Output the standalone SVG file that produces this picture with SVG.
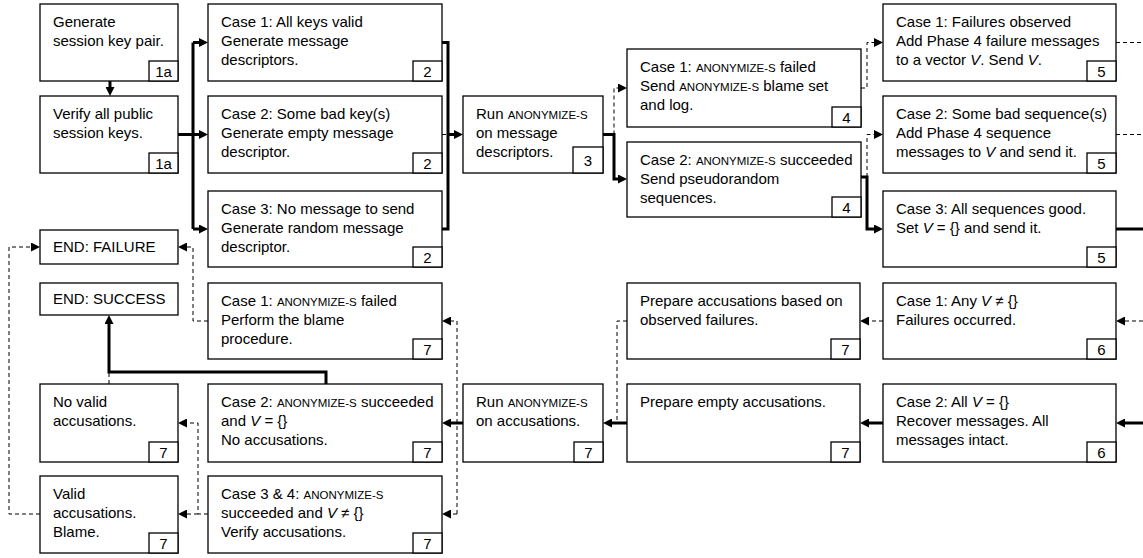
<svg xmlns="http://www.w3.org/2000/svg" width="1143" height="558" viewBox="0 0 1143 558">
<style>
.b{fill:#fff;stroke:#000;stroke-width:1.3}
text{font-family:"Liberation Sans",Arial,sans-serif;font-size:15px;fill:#000}
.num{text-anchor:middle}
.sc{font-size:11.5px}
.i{font-style:italic}
.t{fill:none;stroke:#000;stroke-width:3}
.d{fill:none;stroke:#000;stroke-width:1;stroke-dasharray:4 3}
.ar{marker-end:url(#a)}
</style>
<defs>
<marker id="a" viewBox="0 0 9 9" refX="5" refY="4.5" markerWidth="9" markerHeight="9" markerUnits="userSpaceOnUse" orient="auto">
<path d="M0,0 L9,4.5 L0,9 z" fill="#000"/>
</marker>
</defs>
<rect width="1143" height="558" fill="#fff"/>

<g id="connectors">
<path class="t ar" d="M110,81 V92"/>
<path class="t" d="M178,134.5 H193 M193,42.5 V229"/>
<path class="t ar" d="M193,42.5 H204"/>
<path class="t ar" d="M193,134.5 H204"/>
<path class="t ar" d="M193,229 H204"/>
<path class="t" d="M442,42.5 H448 V229 H442"/>
<path class="d" d="M442,134.5 H448"/>
<path class="t ar" d="M448,134.5 H459"/>
<path class="t ar" d="M603,134.5 H614 V179 H623"/>
<path class="d ar" d="M614,134.5 V88 H623"/>
<path class="d ar" d="M861,88 H867 V42.5 H879"/>
<path class="t ar" d="M861,177 H867 V229 H879"/>
<path class="d ar" d="M867,177 V134.5 H879"/>
<path class="d" d="M1116,42.5 H1143"/>
<path class="d" d="M1116,134.5 H1143"/>
<path class="t" d="M1116,229 H1143"/>
<path class="d ar" d="M1143,321 H1120"/>
<path class="t ar" d="M1143,423 H1120"/>
<path class="d ar" d="M883,321 H864"/>
<path class="t ar" d="M883,423 H864"/>
<path class="t ar" d="M627,423 H607"/>
<path class="d" d="M627,321 H617 V423"/>
<path class="t ar" d="M463,423 H446"/>
<path class="d ar" d="M457,514 V321 H446"/>
<path class="d ar" d="M457,514 H446"/>
<path class="t ar" d="M326,384 V372 H109 V319"/>
<path class="d" d="M109,384 V372"/>
<path class="d ar" d="M208,514 H198 V423 H182"/>
<path class="d ar" d="M198,514 H182"/>
<path class="d ar" d="M40,514 H9 V247 H36"/>
<path class="d ar" d="M208,321 H193 V247 H182"/>
</g>

<g id="n1a1"><rect class="b" x="40" y="4" width="138" height="77"/><text x="53" y="27">Generate</text><text x="53" y="46">session key pair.</text><rect class="b" x="149" y="61" width="29" height="20"/><text class="num" x="163.5" y="76.5">1a</text></g>
<g id="n1a2"><rect class="b" x="40" y="96" width="138" height="77"/><text x="53" y="119">Verify all public</text><text x="53" y="138">session keys.</text><rect class="b" x="149" y="153" width="29" height="20"/><text class="num" x="163.5" y="168.5">1a</text></g>
<g id="endF"><rect class="b" x="40" y="230" width="138" height="34"/><text x="53" y="252">END: FAILURE</text></g>
<g id="endS"><rect class="b" x="40" y="283" width="138" height="32"/><text x="53" y="304">END: SUCCESS</text></g>

<g id="c1"><rect class="b" x="208" y="4" width="234" height="77"/><text x="221" y="27">Case 1: All keys valid</text><text x="221" y="46">Generate message</text><text x="221" y="65">descriptors.</text><rect class="b" x="413" y="61" width="29" height="20"/><text class="num" x="427.5" y="76.5">2</text></g>
<g id="c2"><rect class="b" x="208" y="96" width="234" height="77"/><text x="221" y="119">Case 2: Some bad key(s)</text><text x="221" y="138">Generate empty message</text><text x="221" y="157">descriptor.</text><rect class="b" x="413" y="153" width="29" height="20"/><text class="num" x="427.5" y="168.5">2</text></g>
<g id="c3"><rect class="b" x="208" y="191" width="234" height="76"/><text x="221" y="214">Case 3: No message to send</text><text x="221" y="233">Generate random message</text><text x="221" y="252">descriptor.</text><rect class="b" x="413" y="247" width="29" height="20"/><text class="num" x="427.5" y="262.5">2</text></g>

<g id="r3"><rect class="b" x="463" y="96" width="140" height="77"/><text x="476" y="119">Run <tspan class="sc">ANONYMIZE-S</tspan></text><text x="476" y="138">on message</text><text x="476" y="157">descriptors.</text><rect class="b" x="573" y="147" width="30" height="26"/><text class="num" x="588" y="165.5">3</text></g>

<g id="n4a"><rect class="b" x="627" y="49" width="234" height="78"/><text x="640" y="72">Case 1: <tspan class="sc">ANONYMIZE-S</tspan> failed</text><text x="640" y="91">Send <tspan class="sc">ANONYMIZE-S</tspan> blame set</text><text x="640" y="110">and log.</text><rect class="b" x="832" y="107" width="29" height="20"/><text class="num" x="846.5" y="122.5">4</text></g>
<g id="n4b"><rect class="b" x="627" y="142" width="234" height="75"/><text x="640" y="165">Case 2: <tspan class="sc">ANONYMIZE-S</tspan> succeeded</text><text x="640" y="184">Send pseudorandom</text><text x="640" y="203">sequences.</text><rect class="b" x="832" y="197" width="29" height="20"/><text class="num" x="846.5" y="212.5">4</text></g>

<g id="n5a"><rect class="b" x="883" y="4" width="233" height="77"/><text x="896" y="27">Case 1: Failures observed</text><text x="896" y="46">Add Phase 4 failure messages</text><text x="896" y="65">to a vector <tspan class="i">V</tspan>. Send <tspan class="i">V</tspan>.</text><rect class="b" x="1087" y="61" width="29" height="20"/><text class="num" x="1101.5" y="76.5">5</text></g>
<g id="n5b"><rect class="b" x="883" y="96" width="233" height="77"/><text x="896" y="119">Case 2: Some bad sequence(s)</text><text x="896" y="138">Add Phase 4 sequence</text><text x="896" y="157">messages to <tspan class="i">V</tspan> and send it.</text><rect class="b" x="1087" y="153" width="29" height="20"/><text class="num" x="1101.5" y="168.5">5</text></g>
<g id="n5c"><rect class="b" x="883" y="191" width="233" height="76"/><text x="896" y="214">Case 3: All sequences good.</text><text x="896" y="233">Set <tspan class="i">V</tspan> = {} and send it.</text><rect class="b" x="1087" y="247" width="29" height="20"/><text class="num" x="1101.5" y="262.5">5</text></g>

<g id="n6a"><rect class="b" x="883" y="283" width="233" height="76"/><text x="896" y="306">Case 1: Any <tspan class="i">V</tspan> ≠ {}</text><text x="896" y="325">Failures occurred.</text><rect class="b" x="1087" y="339" width="29" height="20"/><text class="num" x="1101.5" y="354.5">6</text></g>
<g id="n6b"><rect class="b" x="883" y="384" width="233" height="78"/><text x="896" y="407">Case 2: All <tspan class="i">V</tspan> = {}</text><text x="896" y="426">Recover messages. All</text><text x="896" y="445">messages intact.</text><rect class="b" x="1087" y="442" width="29" height="20"/><text class="num" x="1101.5" y="457.5">6</text></g>

<g id="pb"><rect class="b" x="627" y="283" width="233" height="76"/><text x="640" y="306">Prepare accusations based on</text><text x="640" y="325">observed failures.</text><rect class="b" x="831" y="339" width="29" height="20"/><text class="num" x="845.5" y="354.5">7</text></g>
<g id="pe"><rect class="b" x="627" y="384" width="233" height="78"/><text x="640" y="407">Prepare empty accusations.</text><rect class="b" x="831" y="442" width="29" height="20"/><text class="num" x="845.5" y="457.5">7</text></g>
<g id="ra"><rect class="b" x="463" y="384" width="140" height="78"/><text x="476" y="407">Run <tspan class="sc">ANONYMIZE-S</tspan></text><text x="476" y="426">on accusations.</text><rect class="b" x="574" y="442" width="29" height="20"/><text class="num" x="588.5" y="457.5">7</text></g>

<g id="k1"><rect class="b" x="208" y="283" width="234" height="76"/><text x="221" y="306">Case 1: <tspan class="sc">ANONYMIZE-S</tspan> failed</text><text x="221" y="325">Perform the blame</text><text x="221" y="344">procedure.</text><rect class="b" x="413" y="339" width="29" height="20"/><text class="num" x="427.5" y="354.5">7</text></g>
<g id="k2"><rect class="b" x="208" y="384" width="234" height="78"/><text x="221" y="407">Case 2: <tspan class="sc">ANONYMIZE-S</tspan> succeeded</text><text x="221" y="426">and <tspan class="i">V</tspan> = {}</text><text x="221" y="445">No accusations.</text><rect class="b" x="413" y="442" width="29" height="20"/><text class="num" x="427.5" y="457.5">7</text></g>
<g id="k3"><rect class="b" x="208" y="476" width="234" height="77"/><text x="221" y="499">Case 3 &amp; 4: <tspan class="sc">ANONYMIZE-S</tspan></text><text x="221" y="518">succeeded and <tspan class="i">V</tspan> ≠ {}</text><text x="221" y="537">Verify accusations.</text><rect class="b" x="413" y="533" width="29" height="20"/><text class="num" x="427.5" y="548.5">7</text></g>

<g id="nv"><rect class="b" x="40" y="384" width="138" height="78"/><text x="53" y="407">No valid</text><text x="53" y="426">accusations.</text><rect class="b" x="149" y="442" width="29" height="20"/><text class="num" x="163.5" y="457.5">7</text></g>
<g id="va"><rect class="b" x="40" y="476" width="138" height="77"/><text x="53" y="499">Valid</text><text x="53" y="518">accusations.</text><text x="53" y="537">Blame.</text><rect class="b" x="149" y="533" width="29" height="20"/><text class="num" x="163.5" y="548.5">7</text></g>
</svg>
